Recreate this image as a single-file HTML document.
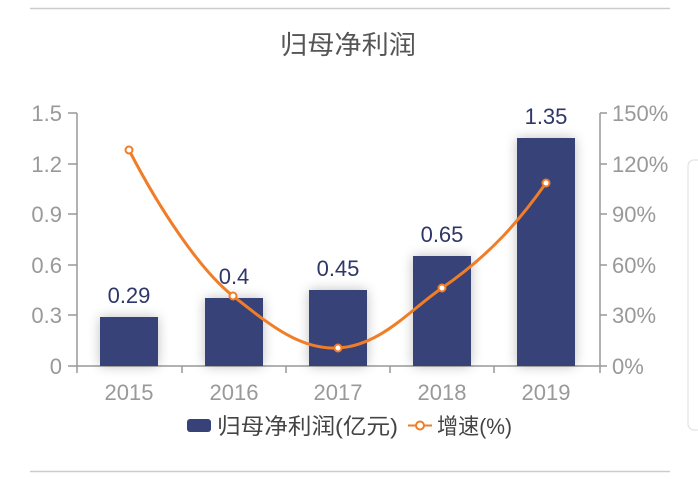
<!DOCTYPE html>
<html><head><meta charset="utf-8"><style>
html,body{margin:0;padding:0;background:#fff;}
svg{display:block;font-family:"Liberation Sans","Noto Sans CJK SC",sans-serif;}
</style></head><body>
<svg width="698" height="479" viewBox="0 0 698 479">
<defs><filter id="sh" x="-50%" y="-50%" width="200%" height="200%"><feGaussianBlur stdDeviation="6"/></filter></defs>
<line x1="30" y1="8.5" x2="670" y2="8.5" stroke="#ccc" stroke-width="1.5"/>
<line x1="30" y1="471.5" x2="670" y2="471.5" stroke="#ccc" stroke-width="1.5"/>
<rect x="688" y="160" width="20" height="270" rx="6" fill="none" stroke="#ddd"/>
<text x="280" y="54" font-size="26" fill="#555" textLength="136" lengthAdjust="spacingAndGlyphs">归母净利润</text>
<g font-size="22" fill="#999" text-anchor="end">
<text x="62" y="121">1.5</text><text x="62" y="172">1.2</text><text x="62" y="222">0.9</text>
<text x="62" y="273">0.6</text><text x="62" y="323">0.3</text><text x="62" y="374">0</text>
</g>
<g font-size="22" fill="#999">
<text x="612" y="121">150%</text><text x="612" y="172">120%</text><text x="612" y="222">90%</text>
<text x="612" y="273">60%</text><text x="612" y="323">30%</text><text x="612" y="374">0%</text>
</g>
<g stroke="#999" stroke-width="1.5" fill="none">
<path d="M77 113V373M68 113H77M68 164H77M68 214H77M68 265H77M68 315H77M68 366H77"/>
<path d="M600 113V373M600 113H607M600 164H607M600 214H607M600 265H607M600 315H607M600 366H607"/>
<path d="M77 366H600M182 366V373M286 366V373M390 366V373M494 366V373"/>
</g>
<g fill="#000" opacity="0.25" filter="url(#sh)">
<rect x="100" y="317" width="58" height="49"/><rect x="205" y="298" width="58" height="68"/>
<rect x="309" y="290" width="58" height="76"/><rect x="413" y="256" width="58" height="110"/>
<rect x="517" y="138" width="58" height="228"/>
</g>
<g fill="#374278">
<rect x="100" y="317" width="58" height="49"/><rect x="205" y="298" width="58" height="68"/>
<rect x="309" y="290" width="58" height="76"/><rect x="413" y="256" width="58" height="110"/>
<rect x="517" y="138" width="58" height="228"/>
</g>
<g font-size="22" fill="#2e3768" text-anchor="middle">
<text x="129" y="303">0.29</text><text x="234" y="284">0.4</text><text x="338" y="276">0.45</text>
<text x="442" y="242">0.65</text><text x="546" y="124">1.35</text>
</g>
<path d="M129 150C160 210 200 270 233 296C270 325 300 350 338 348C380 346 410 310 442 288C490 255 520 220 546 183" fill="none" stroke="#f07d27" stroke-width="3"/>
<g fill="#fff" stroke="#f07d27" stroke-width="2">
<circle cx="129" cy="150" r="3.5"/><circle cx="233" cy="296" r="3.5"/><circle cx="338" cy="348" r="3.5"/>
<circle cx="442" cy="288" r="3.5"/><circle cx="546" cy="183" r="3.5"/>
</g>
<g font-size="22" fill="#999" text-anchor="middle">
<text x="129" y="400">2015</text><text x="234" y="400">2016</text><text x="338" y="400">2017</text>
<text x="442" y="400">2018</text><text x="546" y="400">2019</text>
</g>
<rect x="187" y="419" width="24" height="13" rx="3" fill="#374278"/>
<text x="217" y="434" font-size="22" fill="#444" textLength="181" lengthAdjust="spacingAndGlyphs">归母净利润(亿元)</text>
<line x1="408" y1="425.5" x2="432" y2="425.5" stroke="#f07d27" stroke-width="2"/>
<circle cx="420" cy="425.5" r="4" fill="#fff" stroke="#f07d27" stroke-width="2"/>
<text x="437" y="434" font-size="22" fill="#444" textLength="75" lengthAdjust="spacingAndGlyphs">增速(%)</text>
</svg>
</body></html>
